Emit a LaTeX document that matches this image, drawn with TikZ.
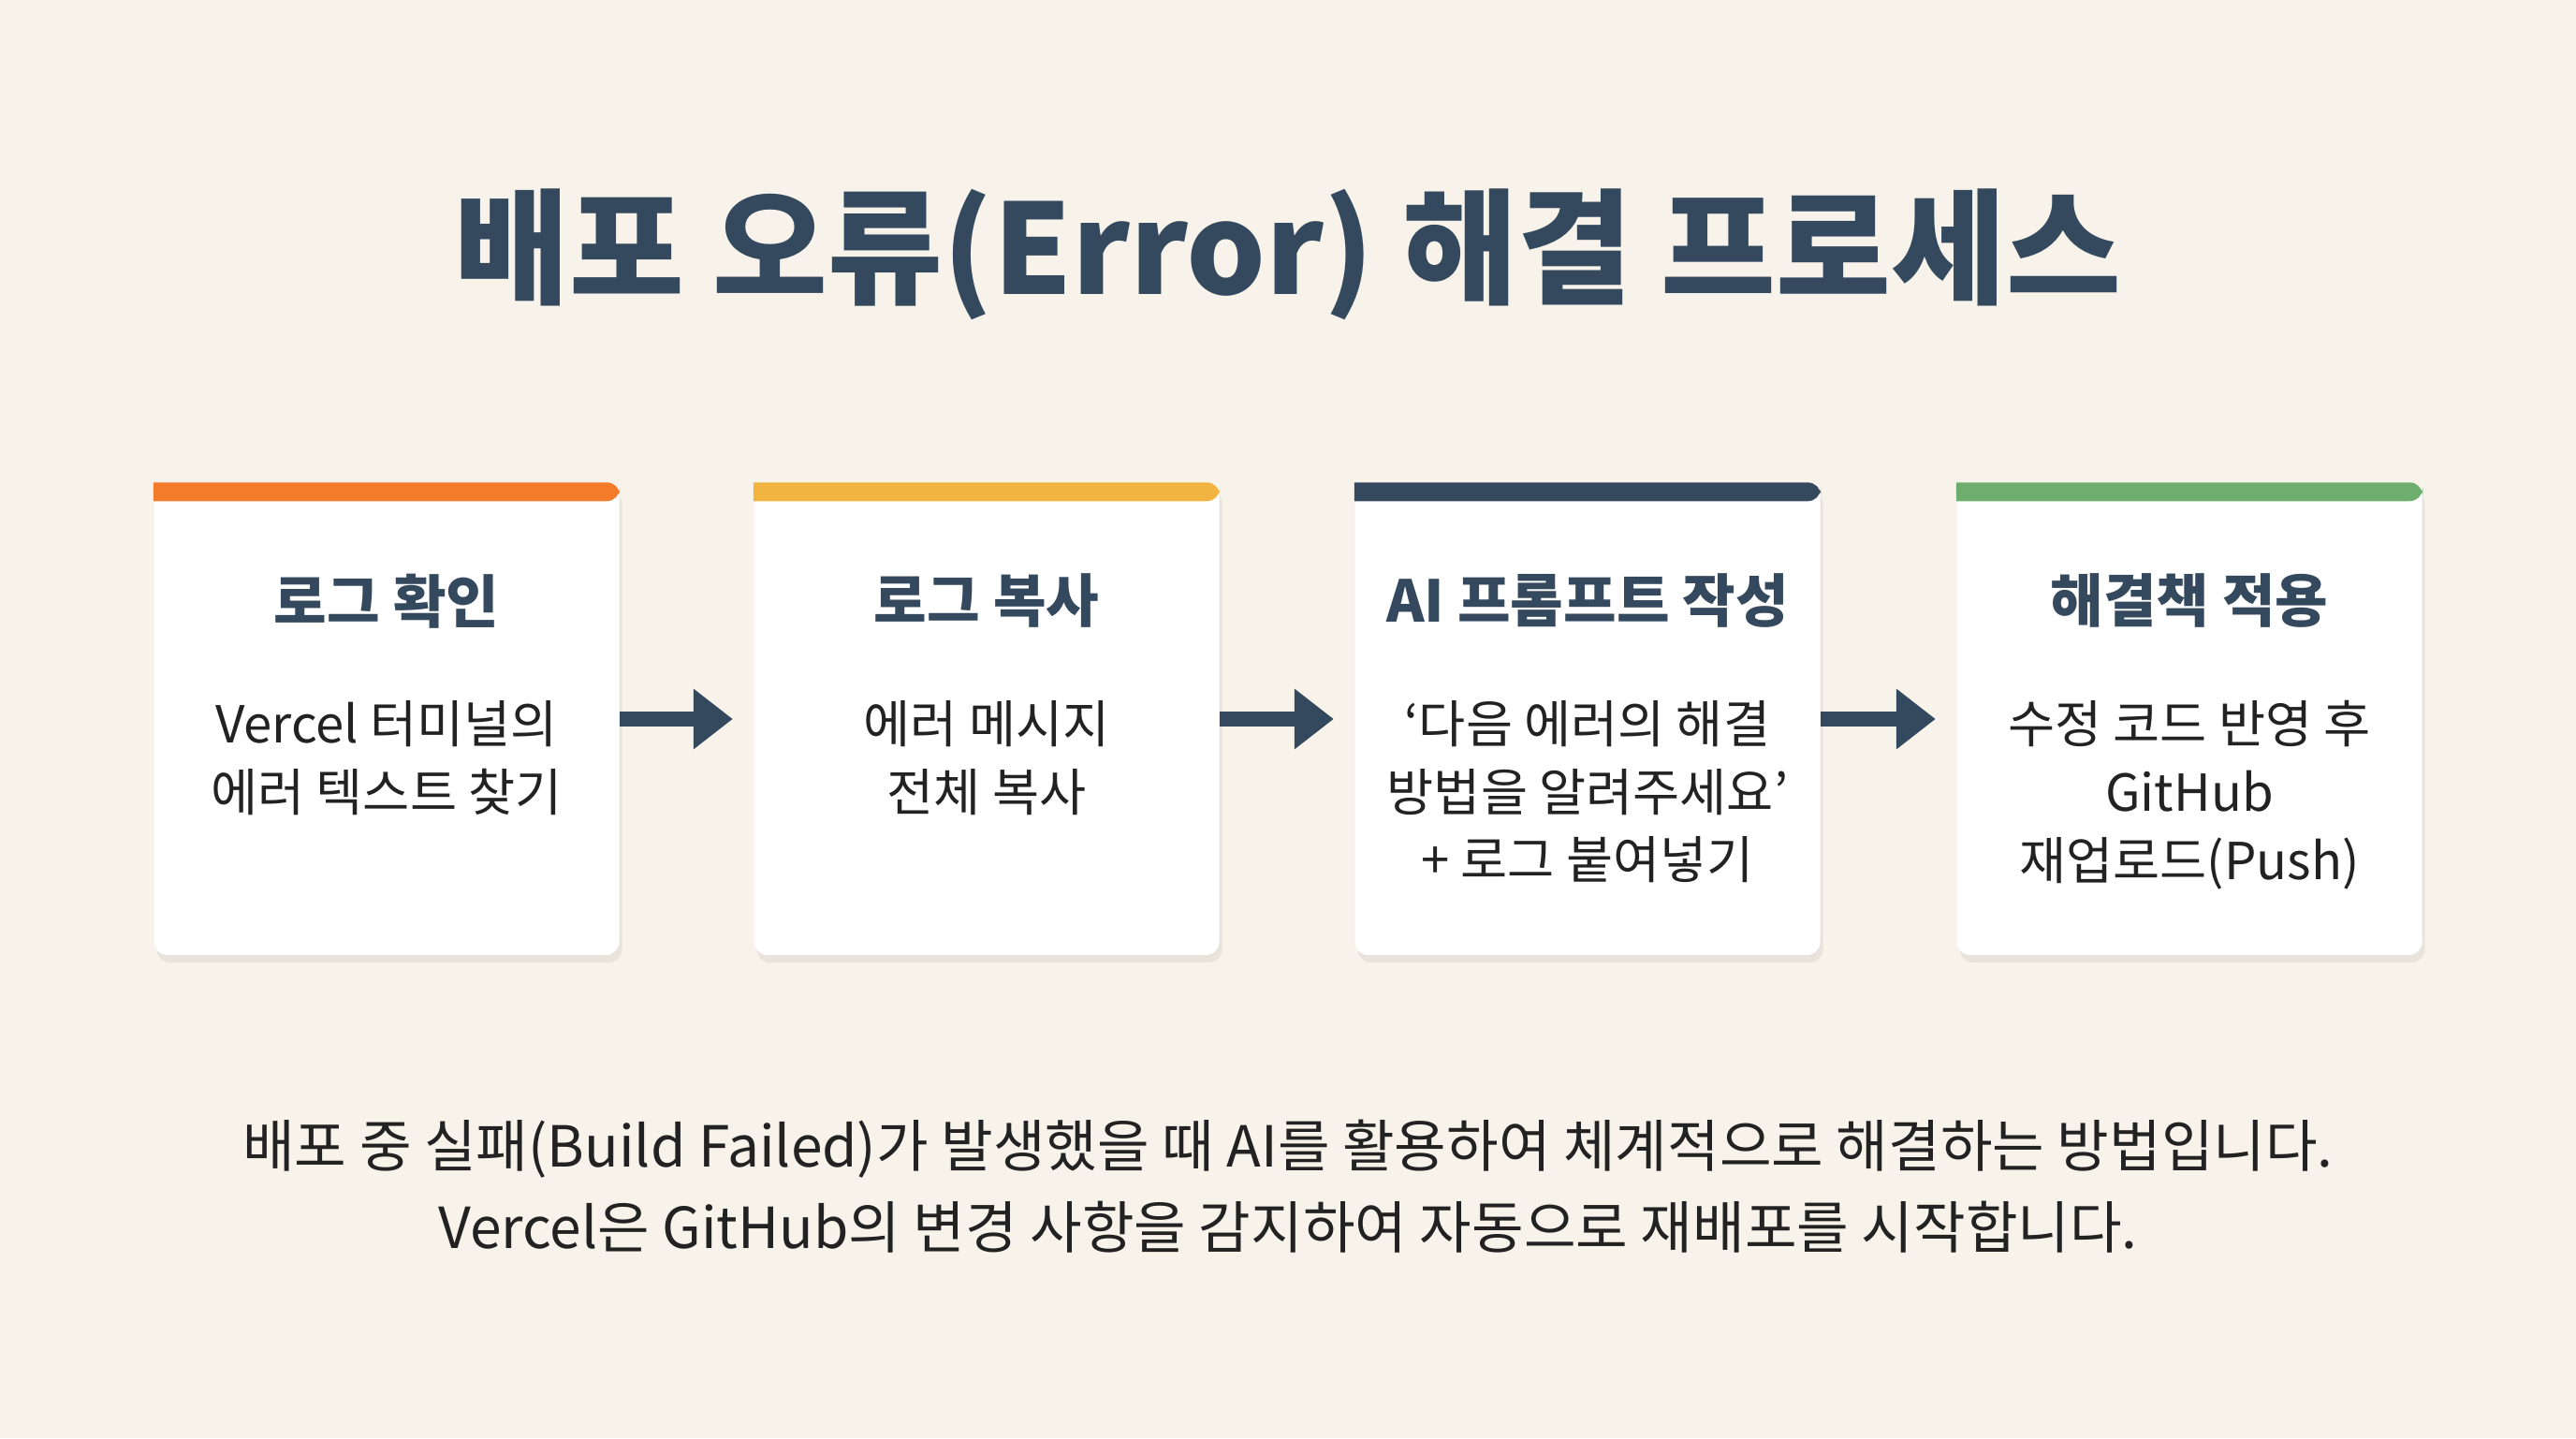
\documentclass[tikz,border=0pt]{standalone}
\usepackage{fontspec}
\setmainfont{Noto Sans CJK KR}
\usetikzlibrary{positioning,shadows,calc,arrows.meta}
\definecolor{bg}{HTML}{F7F3EA}
\definecolor{ink}{HTML}{34495E}
\definecolor{txt}{HTML}{222222}
\definecolor{corange}{HTML}{F47B2A}
\definecolor{cyellow}{HTML}{F2B440}
\definecolor{cnavy}{HTML}{34495E}
\definecolor{cgreen}{HTML}{6DAE6E}

\begin{document}
\begin{tikzpicture}
        % ================= 样式 =================
        \tikzset{
            % 卡片
            card/.style={draw=none, fill=white, rounded corners=4pt, minimum width=4.97cm, minimum height=5.04cm,
                drop shadow={shadow xshift=0.03cm, shadow yshift=-0.08cm, opacity=0.1, fill=black!60}},
            % 卡片标题
            head/.style={font=\bfseries\fontsize{17.5}{22}\selectfont, text=ink},
            % 卡片正文
            body/.style={font=\fontsize{15.5}{20.7}\selectfont, text=txt, align=center},
            % 箭头
            flow/.style={line width=4.5pt, ink, -{Triangle[length=0.42cm, width=0.62cm]}, shorten >=0.22cm}
        }

        % ================= 背景与标题 =================
        \fill[bg] (0,0) rectangle (27.52,15.36);
        \useasboundingbox (0,0) rectangle (27.52,15.36);
        \node[font=\bfseries\fontsize{38}{46}\selectfont, text=ink] (title) at (13.76,12.64) {배포 오류(Error) 해결 프로세스};

        % ================= 卡片 =================
        \foreach \i/\x/\c in {1/4.13/corange, 2/10.54/cyellow, 3/16.96/cnavy, 4/23.39/cgreen} {
            \node[card] (b\i) at (\x,7.68) {};
            \fill[\c, rounded corners=4pt] (b\i.north west) -- (b\i.north east) -- ($(b\i.north east)+(0,-0.2)$)
                [sharp corners] -- ($(b\i.north west)+(0,-0.2)$) -- cycle;
        }

        % 标题
        \node[head] (h1) at (4.13,8.94) {로그 확인};
        \node[head] (h2) at (10.54,8.94) {로그 복사};
        \node[head] (h3) at (16.96,8.94) {AI 프롬프트 작성};
        \node[head] (h4) at (23.39,8.94) {해결책 적용};

        % 正文
        \node[body, anchor=north] (t1) at (4.13,8.0) {Vercel 터미널의\\에러 텍스트 찾기};
        \node[body, anchor=north] (t2) at (10.54,8.0) {에러 메시지\\전체 복사};
        \node[body, anchor=north] (t3) at (16.96,8.0) {‘다음 에러의 해결\\방법을 알려주세요’\\+ 로그 붙여넣기};
        \node[body, anchor=north] (t4) at (23.39,8.0) {수정 코드 반영 후\\GitHub\\재업로드(Push)};

        % ================= 箭头 =================
        \foreach \a/\b in {1/2, 2/3, 3/4}
            \draw[flow] (b\a.east) -- (b\b.west);

        % ================= 说明 =================
        \node[font=\fontsize{17.2}{22}\selectfont, text=txt] (n1) at (13.76,3.09) {배포 중 실패(Build Failed)가 발생했을 때 AI를 활용하여 체계적으로 해결하는 방법입니다.};
        \node[font=\fontsize{17.2}{22}\selectfont, text=txt] (n2) at (13.76,2.25) {Vercel은 GitHub의 변경 사항을 감지하여 자동으로 재배포를 시작합니다.};
\end{tikzpicture}
\end{document}
